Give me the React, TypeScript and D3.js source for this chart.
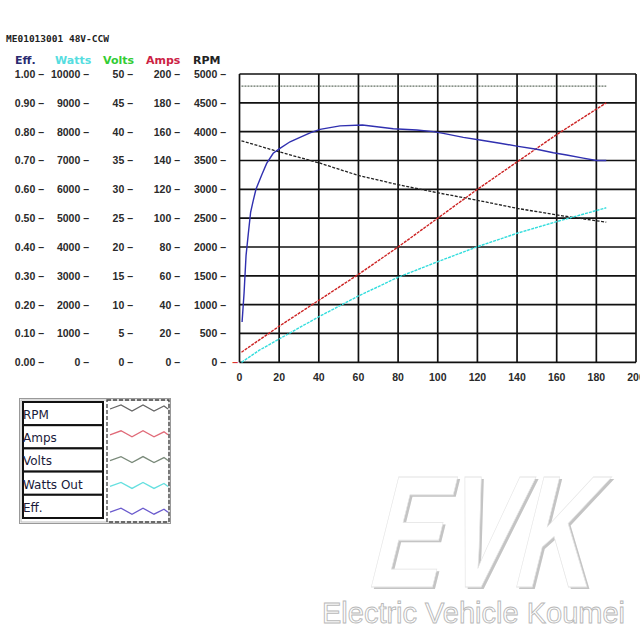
import React from "react";
import * as d3 from "d3";

// ---------- data ----------
const effCurrent = [1.3, 2.3, 3.3, 4.5, 5.6, 6.9, 8.3, 11.2, 13.7, 17, 20.4, 25.5, 30.5, 35.6, 40.6, 50.7, 62, 77.6, 89.4, 97.8, 102.8, 112.9, 121.3, 131.4, 139.8, 149.9, 158.3, 165, 173.4, 180, 185];
const effValues = [0.14, 0.24, 0.37, 0.45, 0.52, 0.56, 0.6, 0.65, 0.69, 0.725, 0.742, 0.765, 0.78, 0.796, 0.808, 0.82, 0.823, 0.81, 0.806, 0.8, 0.794, 0.78, 0.771, 0.76, 0.75, 0.739, 0.727, 0.719, 0.708, 0.7, 0.7];

const rpmCurrent = [1, 20, 40, 60, 80, 100, 120, 140, 160, 185];
const rpmValues = [3840, 3650, 3460, 3240, 3080, 2940, 2810, 2670, 2555, 2430];

const ampCurrent = [1, 20, 40, 60, 80, 100, 120, 140, 160, 185];
const ampValues = [7, 25, 43, 61, 80, 100, 120, 139, 158, 180];

const wattCurrent = [1, 10, 20, 40, 60, 80, 100, 120, 140, 160, 185];
const wattValues = [0, 420, 808, 1580, 2300, 2950, 3490, 4010, 4475, 4880, 5360];

const voltCurrent = [1, 50, 100, 150, 185];
const voltValues = [47.9, 47.9, 47.9, 47.9, 47.9];

// ---------- tick labels ----------
const xTicks = [0, 20, 40, 60, 80, 100, 120, 140, 160, 180, 200];
const effTicks = ["1.00", "0.90", "0.80", "0.70", "0.60", "0.50", "0.40", "0.30", "0.20", "0.10", "0.00"];
const wattTicks = ["10000", "9000", "8000", "7000", "6000", "5000", "4000", "3000", "2000", "1000", "0"];
const voltTicks = ["50", "45", "40", "35", "30", "25", "20", "15", "10", "5", "0"];
const ampTicks = ["200", "180", "160", "140", "120", "100", "80", "60", "40", "20", "0"];
const rpmTicks = ["5000", "4500", "4000", "3500", "3000", "2500", "2000", "1500", "1000", "500", "0"];

const legendLabels = ["RPM", "Amps", "Volts", "Watts Out", "Eff."];
const legendColors = ["#666666", "#e06a78", "#7a8a7a", "#66e0e0", "#6a5acd"];

export default function App() {
  const x = d3.scaleLinear().domain([0, 200]).range([239.5, 636]);
  const yEff = d3.scaleLinear().domain([0, 1]).range([362.3, 74]);
  const yRpm = d3.scaleLinear().domain([0, 5000]).range([362.3, 74]);
  const yAmp = d3.scaleLinear().domain([0, 200]).range([362.3, 74]);
  const yWatt = d3.scaleLinear().domain([0, 10000]).range([362.3, 74]);
  const yVolt = d3.scaleLinear().domain([0, 50]).range([362.3, 74]);

  const mk = (xs: number[], ys: number[], sy: d3.ScaleLinear<number, number>) =>
    d3.line<number>().x((_, i) => x(xs[i])).y((d) => sy(d))(ys) || "";

  const effPath = mk(effCurrent, effValues, yEff);
  const rpmPath = mk(rpmCurrent, rpmValues, yRpm);
  const ampPath = mk(ampCurrent, ampValues, yAmp);
  const wattPath = mk(wattCurrent, wattValues, yWatt);
  const voltPath = mk(voltCurrent, voltValues, yVolt);

  const hGrid = d3.range(0, 11).map((i) => i / 10);
  const tickFont = { fontFamily: "Liberation Sans", fontSize: 10.5, fontWeight: "bold" as const, fill: "#2a2a2a" };

  const columns = [
    { labels: effTicks, xEnd: 44, head: "Eff.", headX: 15, headColor: "#2a2a70" },
    { labels: wattTicks, xEnd: 89, head: "Watts", headX: 55, headColor: "#55dde0" },
    { labels: voltTicks, xEnd: 133, head: "Volts", headX: 103, headColor: "#33cc33" },
    { labels: ampTicks, xEnd: 180, head: "Amps", headX: 146, headColor: "#cc2244" },
    { labels: rpmTicks, xEnd: 226, head: "RPM", headX: 193, headColor: "#222222" },
  ];

  const zig = (cy: number) => {
    const pts: [number, number][] = [
      [110, cy + 1], [121, cy - 3], [132, cy + 3], [143, cy - 3], [154, cy + 3], [164, cy - 2], [168, cy + 1],
    ];
    return d3.line()(pts) || "";
  };

  return (
    <svg width={640} height={640} style={{ position: "absolute", left: 0, top: 0, background: "#fff" }}>
      {/* title */}
      <text x={6} y={42} fontFamily="DejaVu Sans Mono" fontSize={9.5} fontWeight="bold" fill="#222">
        ME01013001  48V-CCW
      </text>

      {/* left axis columns */}
      {columns.map((c, ci) => (
        <g key={ci}>
          <text x={c.headX} y={64} fontFamily="DejaVu Sans" fontSize={11} fontWeight="bold" fill={c.headColor}>
            {c.head}
          </text>
          {c.labels.map((l, i) => (
            <text key={i} x={c.xEnd} y={yEff(1 - i / 10) + 4} textAnchor="end" {...tickFont}>
              {l} –
            </text>
          ))}
        </g>
      ))}
      <text x={238} y={366} {...tickFont} fill="#dd3333" textAnchor="end">–</text>

      {/* grid */}
      {hGrid.map((v, i) => (
        <line key={"h" + i} x1={x(0)} x2={x(200)} y1={yEff(v)} y2={yEff(v)} stroke="#111" strokeWidth={1.7} />
      ))}
      {xTicks.map((v, i) => (
        <line key={"v" + i} x1={x(v)} x2={x(v)} y1={yEff(0)} y2={yEff(1)} stroke="#111" strokeWidth={1.7} />
      ))}
      {xTicks.map((v, i) => (
        <text key={"xt" + i} x={x(v)} y={381} textAnchor="middle" {...tickFont}>
          {v}
        </text>
      ))}

      {/* series */}
      <path d={voltPath} fill="none" stroke="#3a4a3a" strokeWidth={1} strokeDasharray="2,1" />
      <path d={rpmPath} fill="none" stroke="#222" strokeWidth={1.3} strokeDasharray="3,1.5" />
      <path d={wattPath} fill="none" stroke="#33dddd" strokeWidth={1.4} strokeDasharray="3,1" />
      <path d={ampPath} fill="none" stroke="#cc2222" strokeWidth={1.4} strokeDasharray="3,1" />
      <path d={effPath} fill="none" stroke="#3030b0" strokeWidth={1.4} />

      {/* legend */}
      <rect x={19.5} y={398.5} width={151} height={125} fill="none" stroke="#999" strokeWidth={1} />
      <rect x={21} y={400} width={148} height={122} fill="none" stroke="#bbb" strokeWidth={1} />
      {legendLabels.map((l, i) => (
        <g key={"lg" + i}>
          <rect x={23} y={402 + i * 23.2} width={80} height={23.2} fill="#fff" stroke="#111" strokeWidth={2} />
          <text x={23} y={419 + i * 23.2} fontFamily="DejaVu Sans" fontSize={12} fill="#1a1a3a">
            {l}
          </text>
          <path d={zig(408 + i * 25.8)} fill="none" stroke={legendColors[i]} strokeWidth={1.3} />
        </g>
      ))}
      <rect x={107} y={400} width={62} height={122} fill="none" stroke="#444" strokeWidth={1.3} strokeDasharray="4,2" />

      {/* watermark */}
      <g transform="translate(364,587) skewX(-14)">
        <text x={3} y={2} fontFamily="Liberation Sans" fontWeight="bold" fontSize={160} textLength={224} lengthAdjust="spacingAndGlyphs" fill="#c4c4c4">
          EVK
        </text>
        <text x={0} y={0} fontFamily="Liberation Sans" fontWeight="bold" fontSize={160} textLength={224} lengthAdjust="spacingAndGlyphs" fill="#fff" stroke="#e4e4e4" strokeWidth={0.8}>
          EVK
        </text>
      </g>
      <text x={322} y={623} fontFamily="Liberation Sans" fontSize={29} textLength={303} lengthAdjust="spacingAndGlyphs" fill="#fff" stroke="#b8b8b8" strokeWidth={0.9}>
        Electric Vehicle Koumei
      </text>
    </svg>
  );
}
